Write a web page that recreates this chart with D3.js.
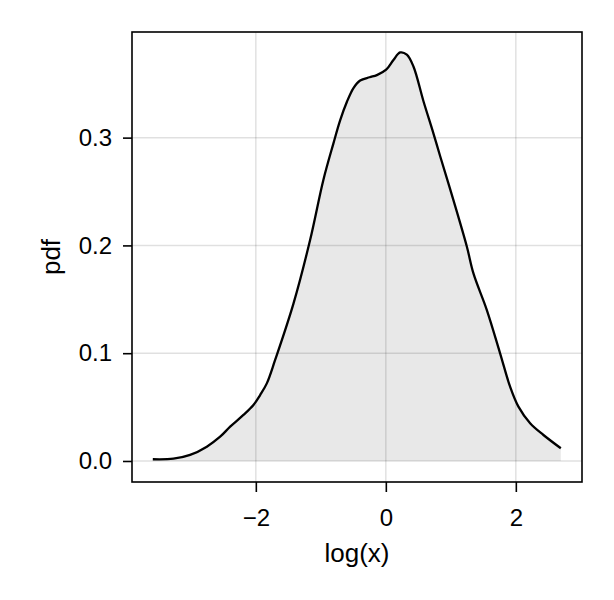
<!DOCTYPE html>
<html><head><meta charset="utf-8">
<script src="https://cdn.jsdelivr.net/npm/d3@7"></script>
<style>body{margin:0;background:#fff}svg{display:block}text{font-family:"Liberation Sans",Arial,sans-serif;fill:#000}</style>
</head><body>
<svg id="c" width="614" height="600"></svg>
<script>
const densX = [-3.585,-3.268,-3.011,-2.754,-2.549,-2.395,-2.191,-2.037,-1.934,-1.831,-1.703,-1.421,-1.165,-0.960,-0.806,-0.703,-0.600,-0.498,-0.395,-0.250,-0.138,0.005,0.117,0.22,0.323,0.425,0.578,0.732,0.835,1.04,1.246,1.348,1.554,1.758,1.912,2.04,2.22,2.425,2.692];
const densY = [0.0016,0.0021,0.0056,0.0133,0.0225,0.0318,0.0427,0.052,0.0612,0.072,0.0937,0.146,0.205,0.261,0.2947,0.316,0.333,0.346,0.353,0.356,0.358,0.363,0.372,0.379,0.377,0.366,0.334,0.304,0.283,0.242,0.199,0.174,0.140,0.0999,0.0689,0.0504,0.035,0.0241,0.0118];
const xTicks = [-2,0,2];
const yTicks = [0.0,0.1,0.2,0.3];
const xLabel = "log(x)", yLabel = "pdf";

const L=132,R=582,T=32,B=482;
const svg=d3.select("#c");
const x=d3.scaleLinear().domain([-3.905,3.018]).range([L,R]);
const y=d3.scaleLinear().domain([-0.0195,0.398]).range([B,T]);
const data=densX.map((v,i)=>[v,densY[i]]);

// grid
svg.append("g").selectAll("line").data(xTicks).join("line")
 .attr("x1",d=>x(d)).attr("x2",d=>x(d)).attr("y1",T).attr("y2",B)
 .attr("stroke","rgba(0,0,0,0.12)").attr("stroke-width",1.5);
svg.append("g").selectAll("line").data(yTicks).join("line")
 .attr("y1",d=>y(d)).attr("y2",d=>y(d)).attr("x1",L).attr("x2",R)
 .attr("stroke","rgba(0,0,0,0.12)").attr("stroke-width",1.5);

// fill
svg.append("path").datum(data)
 .attr("d",d3.area().x(d=>x(d[0])).y0(y(0)).y1(d=>y(d[1])).curve(d3.curveCatmullRom))
 .attr("fill","rgba(0,0,0,0.09)");
svg.append("path").datum(data)
 .attr("d",d3.line().x(d=>x(d[0])).y(d=>y(d[1])).curve(d3.curveCatmullRom))
 .attr("fill","none").attr("stroke","#000").attr("stroke-width",2.3).attr("stroke-linejoin","round");

// frame
svg.append("rect").attr("x",L).attr("y",T).attr("width",R-L).attr("height",B-T)
 .attr("fill","none").attr("stroke","#000").attr("stroke-width",1.6);

// axes
const fmtY=d3.format(".1f");
const xa=d3.axisBottom(x).tickValues(xTicks).tickSize(10).tickPadding(17).tickFormat(d=>d<0?"\u2212"+Math.abs(d):d);
const gx=svg.append("g").attr("transform",`translate(0,${B})`).call(xa);
gx.select(".domain").remove();
gx.selectAll("line").attr("stroke","#000").attr("stroke-width",1.6);
gx.selectAll("text").attr("font-size",24).style("font-family","Liberation Sans, Arial, sans-serif");

const ya=d3.axisLeft(y).tickValues(yTicks).tickSize(9).tickPadding(11).tickFormat(fmtY);
const gy=svg.append("g").attr("transform",`translate(${L},0)`).call(ya);
gy.select(".domain").remove();
gy.selectAll("line").attr("stroke","#000").attr("stroke-width",1.6);
gy.selectAll("text").attr("font-size",24).style("font-family","Liberation Sans, Arial, sans-serif");

svg.append("text").attr("x",(L+R)/2).attr("y",562).attr("text-anchor","middle").attr("font-size",26).text(xLabel);
svg.append("text").attr("transform",`translate(60,${(T+B)/2}) rotate(-90)`).attr("text-anchor","middle").attr("font-size",26).text(yLabel);
</script>
</body></html>
